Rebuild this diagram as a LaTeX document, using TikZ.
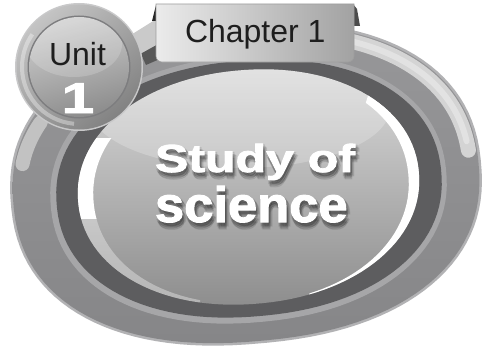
\documentclass[tikz,border=0pt]{standalone}
\usepackage{fontspec}
\setmainfont{Liberation Sans}
\newfontfamily\heavy[FakeBold=2]{Liberation Sans Bold}
\usepackage{graphicx}
\definecolor{rimc}{HTML}{B2B2B4}
\definecolor{bandtop}{HTML}{979799}
\definecolor{bandbot}{HTML}{868688}
\definecolor{linec}{HTML}{A6A6A8}
\definecolor{darkc}{HTML}{5D5D5F}
\definecolor{disctop}{HTML}{DADADA}
\definecolor{discmid}{HTML}{B6B6B6}
\definecolor{discbot}{HTML}{8E8E8E}
\definecolor{hilite}{HTML}{D4D4D4}
\definecolor{hilite2}{HTML}{E2E2E2}
\definecolor{hilite3}{HTML}{C2C2C2}
\definecolor{ringl}{HTML}{C4C4C4}
\definecolor{ringd}{HTML}{828282}
\definecolor{unitl}{HTML}{D0D0D0}
\definecolor{unitd}{HTML}{8C8C8C}
\definecolor{tabl}{HTML}{EBEBEB}
\definecolor{tabd}{HTML}{A2A2A2}
\definecolor{chapc}{HTML}{1E1E1E}
\definecolor{barl}{HTML}{CACACA}
\definecolor{bard}{HTML}{585858}
% rotated superellipse arc: cx cy a b angle p t1 t2
\newcommand\rarc[8]{plot[variable=\t,domain=#7:#8,samples=121] ({#1+#3*cos(\t)*pow(abs(cos(\t)),#6)*cos(#5)-#4*sin(\t)*pow(abs(sin(\t)),#6)*sin(#5)},{#2-#3*cos(\t)*pow(abs(cos(\t)),#6)*sin(#5)-#4*sin(\t)*pow(abs(sin(\t)),#6)*cos(#5)})}
\newcommand\rsup[6]{\rarc{#1}{#2}{#3}{#4}{#5}{#6}{1}{361} -- cycle}
\newcommand\discthree{\rsup{248.5}{187}{171}{117}{5}{-0.04}}
\newcommand\discfour{\rsup{251}{188.5}{158}{114.5}{5}{-0.04}}
\newcommand\studytxt{\heavy\fontsize{50}{50}\selectfont\scalebox{1}[0.78]{Study of}}
\newcommand\sciencetxt{\heavy\fontsize{50}{50}\selectfont\scalebox{1.05}[1]{science}}
\tikzset{
  txt/.style={inner sep=0pt, outer sep=0pt},
  bigw/.style={txt, anchor=base west, text=white},
  bigs/.style={txt, anchor=base west, text=black, opacity=0.07},
}
\begin{document}
\begin{tikzpicture}[x=1pt,y=-1pt]
\useasboundingbox (0,0) rectangle (484,353);
\fill[white] (0,0) rectangle (484,353);
% outer body
\fill[rimc] \rsup{246}{184}{236}{160}{5}{-0.12};
\shade[top color=bandtop, bottom color=bandbot] \rsup{246}{184}{233.5}{157.5}{5}{-0.12};
% highlight bands on outer band
\draw[hilite, line width=15, line cap=round] \rarc{246}{184}{225}{149}{5}{-0.12}{4}{80};
\draw[hilite2, line width=6, line cap=round] \rarc{246}{184}{225}{149}{5}{-0.12}{7}{80};
\draw[hilite3, line width=14, line cap=round] \rarc{246}{184}{226}{146}{5}{-0.12}{150}{167};
% light line and dark band
\fill[linec] \rsup{248.5}{189}{198.5}{133.5}{5}{-0.08};
\fill[darkc] \rsup{249}{188.5}{193}{128}{5}{-0.08};
% inner disc
\shade[top color=disctop, middle color=discmid, bottom color=discbot] \discthree;
\begin{scope}
  \clip \discthree;
  \fill[white, opacity=0.22] (240,108) ellipse[x radius=150, y radius=60];
\end{scope}
% white crescents
\begin{scope}
  \clip (372,82) -- (484,82) -- (484,353) -- (292,353) -- cycle;
  \fill[white, even odd rule] \discthree \discfour;
\end{scope}
\begin{scope}
  \clip (60,138) rectangle (140,218);
  \fill[white, even odd rule] \discthree \discfour;
\end{scope}
\begin{scope}
  \clip (60,218) rectangle (200,320);
  \fill[white, opacity=0.35, even odd rule] \discthree \discfour;
\end{scope}
% connector bar between unit badge and tab
\fill[bard] (140,52) -- (158,42) -- (162,58) -- (146,65) -- cycle;
\fill[barl] (126,38) -- (158,18) -- (158,44) -- (140,54) -- cycle;
% unit badge
\fill[rimc!70!white] (79,67) circle[radius=64];
\shade[top color=ringl, bottom color=ringd, shading angle=40] (79,67) circle[radius=62.5];
\draw[white, opacity=0.35, line width=4] (79,67) ++(95:57) arc[start angle=95, end angle=215, radius=57];
\fill[darkc!80!white] (79,67) circle[radius=51.5];
\shade[top color=unitl, bottom color=unitd, shading angle=15] (79,67) circle[radius=50];
\begin{scope}
  \clip (79,67) circle[radius=50];
  \fill[white, opacity=0.18] (74,44) ellipse[x radius=48, y radius=33];
\end{scope}
% chapter tab
\fill[black!85] (152,21) -- (156,5) -- (158,5) -- (158,21) -- cycle;
\fill[black!70] (353,4) -- (357,9) -- (360,26) -- (353,26) -- cycle;
\shade[left color=tabl, right color=tabd, draw=black!38, line width=0.6]
  (156,4) -- (354,4) -- (354,56) .. controls (354,59.3) and (351.3,62) .. (348,62)
  -- (162,62) .. controls (158.7,62) and (156,59.3) .. (156,56) -- cycle;
% texts
\node[txt, anchor=base west, text=chapc, font=\fontsize{32}{32}\selectfont] (chap) at (185,43) {Chapter 1};
\node[txt, anchor=base, text=chapc, font=\fontsize{32}{32}\selectfont] (unit) at (77.5,65) {Unit};
\node[txt, anchor=base, text=white] (one) at (78,113) {\heavy\fontsize{43}{43}\selectfont\scalebox{1.35}[1]{1}};
\foreach \dx/\dy [count=\i] in {1/3,3/3,2/5,2/1,0/4,4/4,2/7,1/6} {
  \node[bigs] (shs\i) at (155+\dx,172+\dy) {\studytxt};
  \node[bigs] (shc\i) at (155+\dx,222+\dy) {\sciencetxt};
}
\node[bigw] (study) at (155,172) {\studytxt};
\node[bigw] (science) at (155,222) {\sciencetxt};
\end{tikzpicture}
\end{document}
